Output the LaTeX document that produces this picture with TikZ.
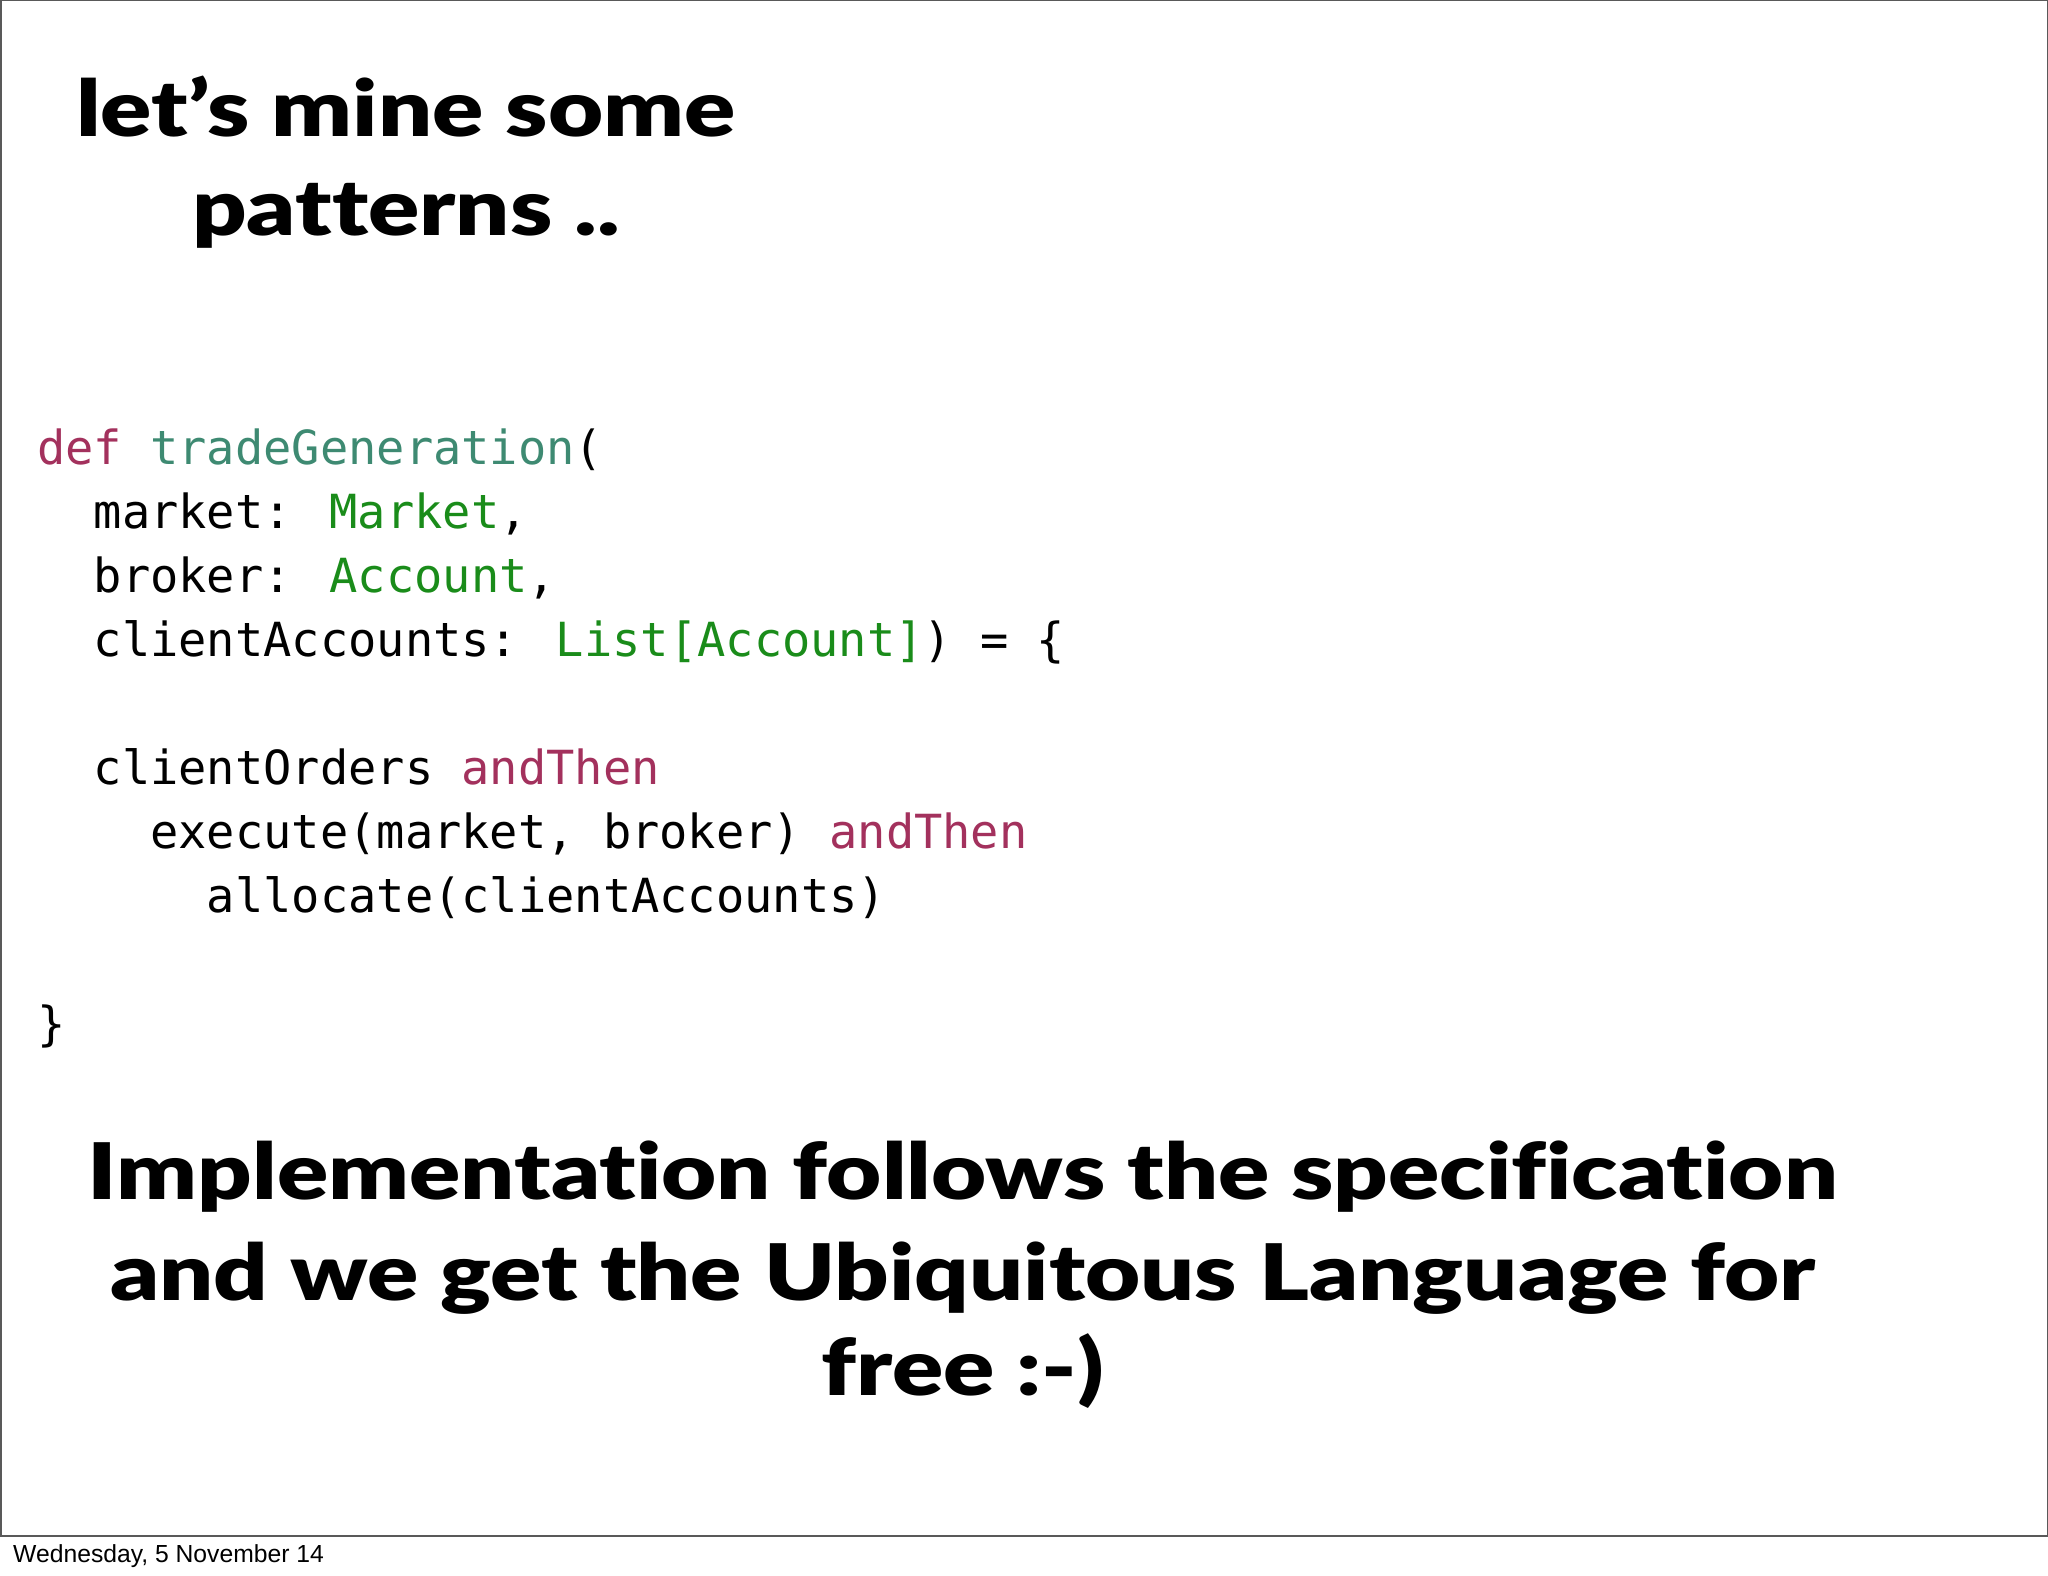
\documentclass[tikz,border=0pt]{standalone}
\usepackage{fontspec}
\setmainfont{Lato Black}[RawFeature={-liga;-dlig;-clig}]
\newfontfamily\codefont{DejaVu Sans Mono}
\newfontfamily\footfont{Liberation Sans}
\definecolor{kw}{HTML}{A3315D}
\definecolor{fn}{HTML}{3E8A72}
\definecolor{ty}{HTML}{1A8C1A}
\begin{document}
\begin{tikzpicture}[x=1pt,y=-1pt,
  title/.style={anchor=base,inner sep=0,xscale=1.22,font=\fontsize{78}{90}\selectfont},
  code/.style={anchor=base west,inner sep=0,font=\codefont\fontsize{47}{60}\selectfont},
  foot/.style={anchor=base west,inner sep=0,font=\footfont\fontsize{24.7}{28}\selectfont}]
\useasboundingbox (0,0) rectangle (2048,1576);
\fill[white] (0,0) rectangle (2048,1576);
\draw[line width=1.5pt,gray!70!black] (0.75,0.75) rectangle (2047.25,1536);
\node[title] (t1) at (406,137) {let’s mine some};
\node[title] (t2) at (406,235) {patterns ..};
\node[code] (c1) at (37,464) {\textcolor{kw}{def} \textcolor{fn}{tradeGeneration}(};
\node[code] (c2) at (37,528) {\ \ market: \textcolor{ty}{Market},};
\node[code] (c3) at (37,592) {\ \ broker: \textcolor{ty}{Account},};
\node[code] (c4) at (37,656) {\ \ clientAccounts: \textcolor{ty}{List[Account]}) = \{};
\node[code] (c5) at (37,784) {\ \ clientOrders \textcolor{kw}{andThen}};
\node[code] (c6) at (37,848) {\ \ \ \ execute(market, broker) \textcolor{kw}{andThen}};
\node[code] (c7) at (37,912) {\ \ \ \ \ \ allocate(clientAccounts)};
\node[code] (c8) at (37,1040) {\}};
\node[title] (b1) at (963,1199) {Implementation follows the specification};
\node[title] (b2) at (963,1300) {and we get the Ubiquitous Language for};
\node[title] (b3) at (963,1395) {free :-)};
\node[foot] (f) at (13,1562) {Wednesday, 5 November 14};
\end{tikzpicture}
\end{document}
